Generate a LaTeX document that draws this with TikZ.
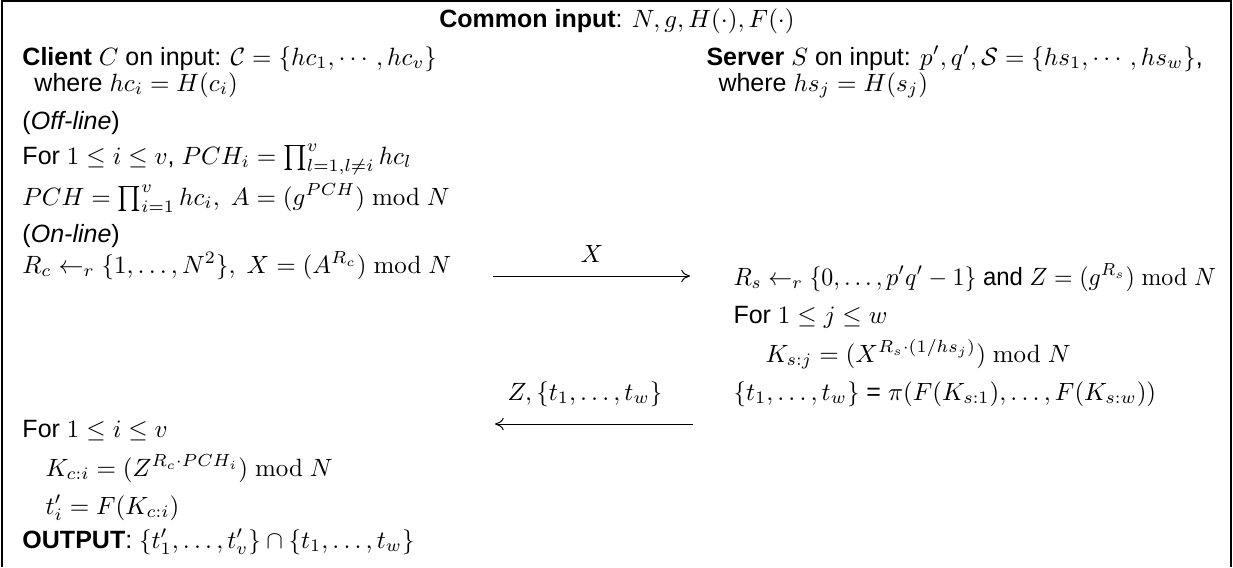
\documentclass[tikz,border=0pt]{standalone}
\usepackage[no-math]{fontspec}
\setmainfont{Liberation Sans}
\usepackage{amsmath,amssymb}
\usepackage{graphicx}
\usetikzlibrary{arrows.meta}
\begin{document}
\begin{tikzpicture}[x=0.4pt,y=-0.4pt,
  txt/.style={anchor=base west,inner sep=0pt,font=\fontsize{10}{12}\selectfont},
  lbl/.style={anchor=base,inner sep=0pt,font=\fontsize{10}{12}\selectfont},
  frame/.style={line width=0.6pt},
  msg/.style={line width=0.4pt,-{To[length=3.5pt,width=5pt]}}]
\useasboundingbox (0,0) rectangle (1233,567);
\draw[frame] (2,567) -- (2,1) -- (1231,1) -- (1231,567);
\node[lbl] (common) at (617,27) {\textbf{Common input}: $N, g, H(\cdot), F(\cdot)$};
% client
\node[txt] (client) at (22,65) {\textbf{Client} $C$ on input: $\mathcal{C}=\{hc_1,\cdots,hc_v\}$};
\node[txt] (cwhere) at (34,91) {where $hc_i=H(c_i)$};
\node[txt] (offline) at (22,129) {(\textit{Off-line})};
\node[txt] (pchi) at (22,164) {For $1\le i\le v$, $PCH_i=\prod_{l=1,l\neq i}^{v}hc_l$};
\node[txt] (pch) at (22,205) {$PCH=\prod_{i=1}^{v}hc_i,\ A=(g^{PCH})\bmod N$};
\node[txt] (online) at (22,242) {(\textit{On-line})};
\node[txt] (rc) at (22,273) {$R_c\leftarrow_r\{1,\ldots,N^2\},\ X=(A^{R_c})\bmod N$};
\node[txt] (cfor) at (22,437) {For $1\le i\le v$};
\node[txt] (kci) at (45,476) {$K_{c:i}=(Z^{R_c\cdot PCH_i})\bmod N$};
\node[txt] (tpi) at (45,514) {$t'_i=F(K_{c:i})$};
\node[txt] (out) at (22,548) {\textbf{OUTPUT}: $\{t'_1,\ldots,t'_v\}\cap\{t_1,\ldots,t_w\}$};
% server
\node[txt] (server) at (706,65) {\textbf{Server} $S$ on input: $p',q',\mathcal{S}=\{hs_1,\cdots,hs_w\}$,};
\node[txt] (swhere) at (718,91) {where $hs_j=H(s_j)$};
\node[txt] (rs) at (733,285) {\scalebox{0.955}[1]{$R_s\leftarrow_r\{0,\ldots,p'q'-1\}$ and $Z=(g^{R_s})\bmod N$}};
\node[txt] (sfor) at (733,323) {For $1\le j\le w$};
\node[txt] (ksj) at (765,362) {$K_{s:j}=(X^{R_s\cdot(1/hs_j)})\bmod N$};
\node[txt] (ts) at (733,400) {$\{t_1,\ldots,t_w\}$ = $\pi(F(K_{s:1}),\ldots,F(K_{s:w}))$};
% messages
\coordinate (m1a) at (493,276);
\coordinate (m1b) at (690,276);
\coordinate (m2a) at (693,424);
\coordinate (m2b) at (495,424);
\draw[msg] (m1a) -- (m1b);
\draw[msg] (m2a) -- (m2b);
\node[lbl] (xl) at (592,262) {$X$};
\node[lbl] (zl) at (585,400) {$Z,\{t_1,\ldots,t_w\}$};
\end{tikzpicture}
\end{document}
